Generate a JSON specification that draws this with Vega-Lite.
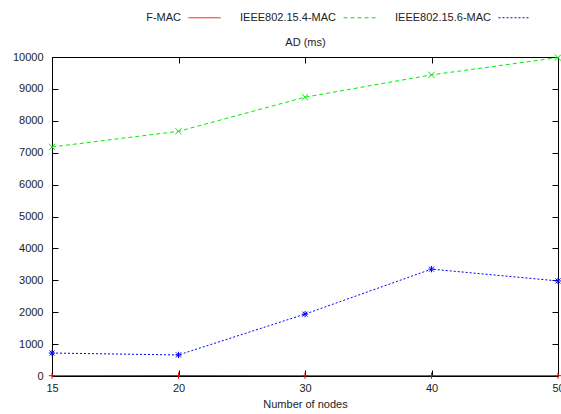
{
  "$schema": "https://vega.github.io/schema/vega-lite/v6.json",
  "width": 506,
  "height": 319,
  "autosize": "none",
  "padding": {"left": 52, "top": 57, "right": 3, "bottom": 38},
  "background": "white",
  "config": {
    "font": "Liberation Sans",
    "view": {"stroke": "black", "strokeWidth": 1},
    "axis": {"domain": false, "grid": false, "tickColor": "black", "tickSize": 6, "offset": -6, "labelFontSize": 11, "labelColor": "#222", "titleFontSize": 11, "titleFontWeight": "normal", "titleColor": "#222", "labelFont": "Liberation Sans", "titleFont": "Liberation Sans"}
  },
  "data": {"values": [
    {"n": "15", "s": "F-MAC", "v": 10},
    {"n": "20", "s": "F-MAC", "v": 15},
    {"n": "30", "s": "F-MAC", "v": 10},
    {"n": "40", "s": "F-MAC", "v": 10},
    {"n": "50", "s": "F-MAC", "v": 10},
    {"n": "15", "s": "IEEE802.15.4-MAC", "v": 7180},
    {"n": "20", "s": "IEEE802.15.4-MAC", "v": 7670},
    {"n": "30", "s": "IEEE802.15.4-MAC", "v": 8740},
    {"n": "40", "s": "IEEE802.15.4-MAC", "v": 9440},
    {"n": "50", "s": "IEEE802.15.4-MAC", "v": 9980},
    {"n": "15", "s": "IEEE802.15.6-MAC", "v": 720},
    {"n": "20", "s": "IEEE802.15.6-MAC", "v": 660},
    {"n": "30", "s": "IEEE802.15.6-MAC", "v": 1940},
    {"n": "40", "s": "IEEE802.15.6-MAC", "v": 3350},
    {"n": "50", "s": "IEEE802.15.6-MAC", "v": 2980}
  ]},
  "layer": [
    {
      "mark": {"type": "line", "strokeWidth": 1, "clip": true},
      "encoding": {
        "x": {"field": "n", "type": "ordinal", "scale": {"type": "point", "padding": 0}, "axis": {"title": "Number of nodes", "labelAngle": 0, "labelPadding": 6, "titlePadding": 5}},
        "y": {"field": "v", "type": "quantitative", "scale": {"domain": [0, 10000], "nice": false}, "axis": {"title": null, "format": "d", "values": [0,1000,2000,3000,4000,5000,6000,7000,8000,9000,10000], "labelPadding": 9}},
        "color": {"field": "s", "type": "nominal", "scale": {"domain": ["F-MAC", "IEEE802.15.4-MAC", "IEEE802.15.6-MAC"], "range": ["#ff0000", "#00ee00", "#0000ff"]},
          "legend": {"title": null, "orient": "none", "legendX": 136, "legendY": -56, "direction": "horizontal", "symbolType": "stroke", "symbolSize": 1024, "symbolStrokeWidth": 1, "labelFontSize": 11, "labelColor": "#222", "labelAlign": "right", "labelOffset": -40, "columnPadding": 17}},
        "strokeDash": {"field": "s", "type": "nominal", "scale": {"domain": ["F-MAC", "IEEE802.15.4-MAC", "IEEE802.15.6-MAC"], "range": [[1, 0], [4, 3], [2, 2]]}}
      }
    },
    {
      "transform": [{"filter": "datum.s === 'F-MAC'"}],
      "mark": {"type": "point", "filled": false, "strokeWidth": 1, "size": 40, "opacity": 1, "shape": "M-1,0L1,0M0,-1L0,1"},
      "encoding": {
        "x": {"field": "n", "type": "ordinal", "axis": null},
        "y": {"field": "v", "type": "quantitative", "axis": null},
        "color": {"field": "s", "type": "nominal", "legend": null}
      }
    },
    {
      "transform": [{"filter": "datum.s === 'IEEE802.15.4-MAC'"}],
      "mark": {"type": "point", "filled": false, "strokeWidth": 1, "size": 40, "opacity": 1, "shape": "M-1,-1L1,1M-1,1L1,-1"},
      "encoding": {
        "x": {"field": "n", "type": "ordinal", "axis": null},
        "y": {"field": "v", "type": "quantitative", "axis": null},
        "color": {"field": "s", "type": "nominal", "legend": null}
      }
    },
    {
      "transform": [{"filter": "datum.s === 'IEEE802.15.6-MAC'"}],
      "mark": {"type": "point", "filled": false, "strokeWidth": 1, "size": 40, "opacity": 1, "shape": "M-1,0L1,0M0,-1L0,1M-0.8,-0.8L0.8,0.8M-0.8,0.8L0.8,-0.8"},
      "encoding": {
        "x": {"field": "n", "type": "ordinal", "axis": {"orient": "top", "labels": false, "title": "AD (ms)", "titlePadding": 9}},
        "y": {"field": "v", "type": "quantitative", "axis": {"orient": "right", "labels": false, "title": null, "values": [0,1000,2000,3000,4000,5000,6000,7000,8000,9000,10000]}},
        "color": {"field": "s", "type": "nominal", "legend": null}
      }
    }
  ],
  "resolve": {"axis": {"x": "independent", "y": "independent"}}
}
